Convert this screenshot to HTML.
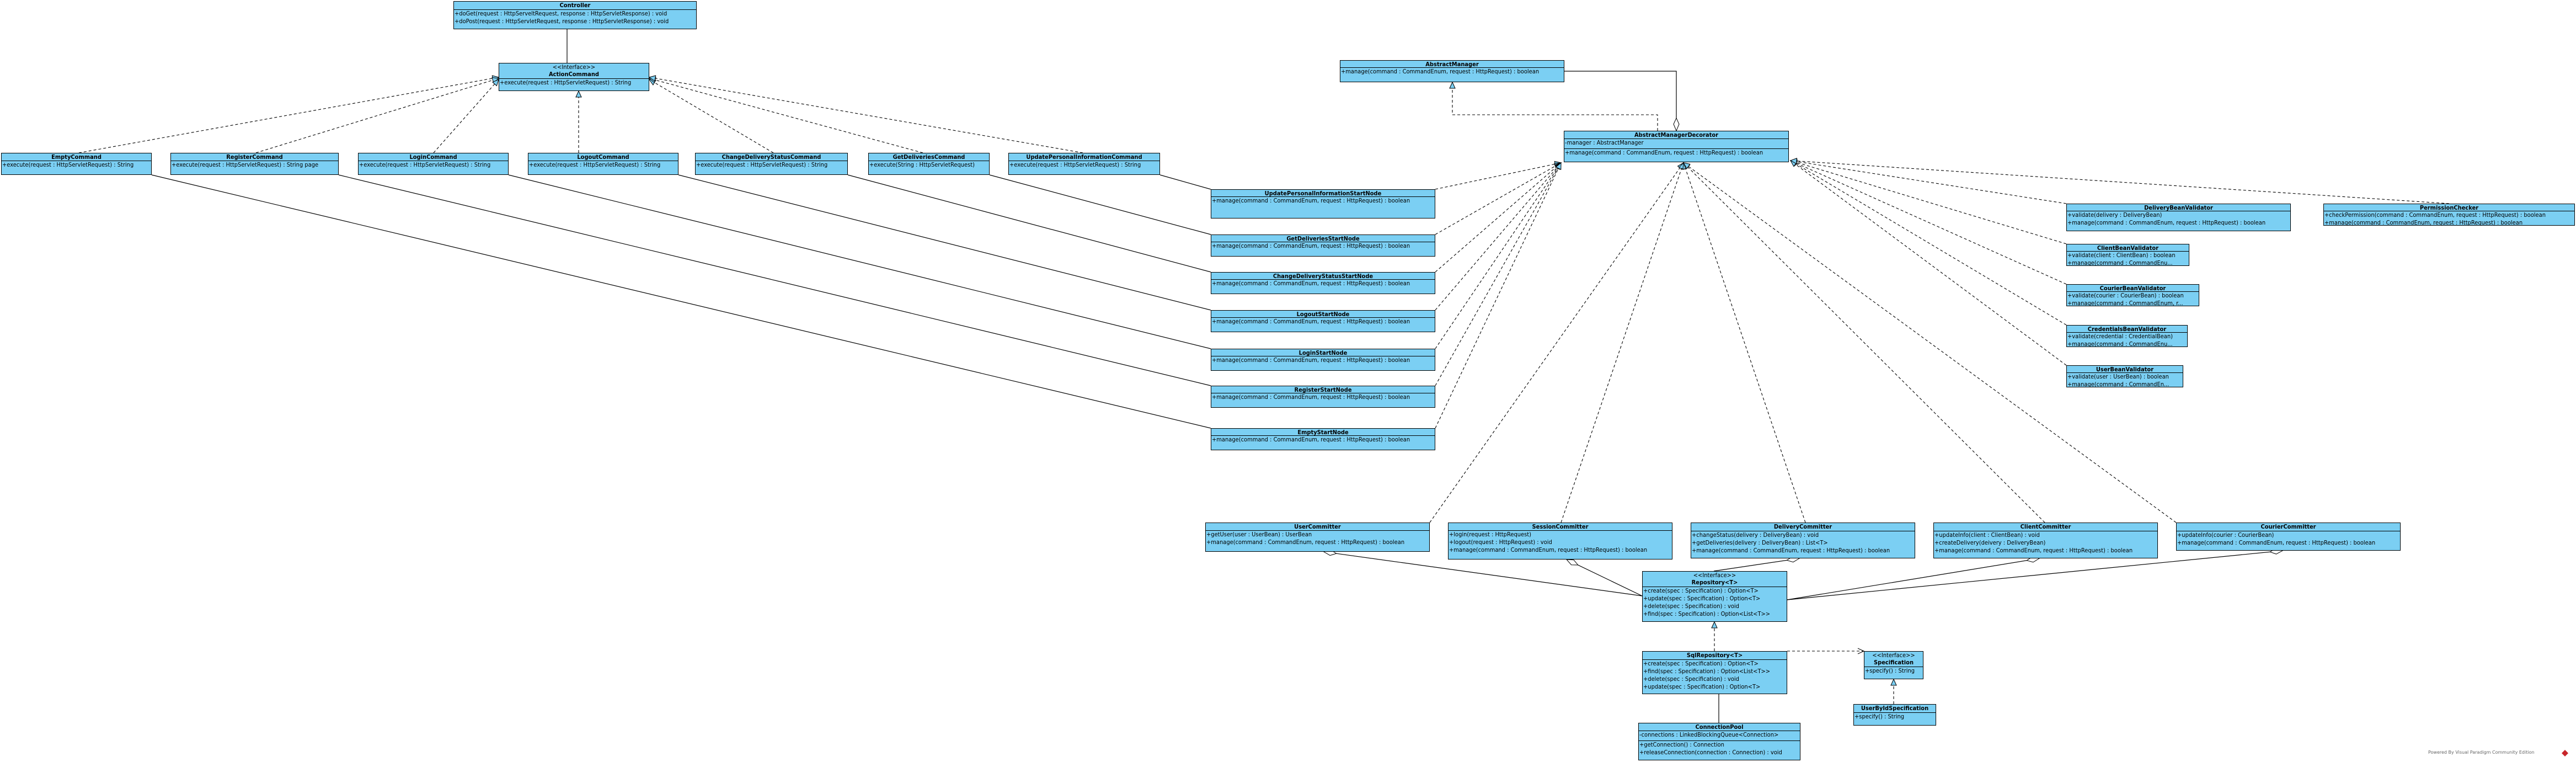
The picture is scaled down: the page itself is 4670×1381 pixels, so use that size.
<!DOCTYPE html>
<html><head><meta charset="utf-8">
<style>
html,body{margin:0;padding:0;background:#fff;}
body{width:4670px;height:1381px;position:relative;overflow:hidden;}
.b{position:absolute;background:#7bcff3;border:1.3px solid #000;box-sizing:border-box;font:11px "DejaVu Sans Condensed","DejaVu Sans","Liberation Sans Narrow",sans-serif;color:#000;overflow:hidden;white-space:nowrap;}
.h{border-bottom:1.3px solid #000;text-align:center;font-weight:bold;box-sizing:border-box;line-height:13px;}
.s{font-weight:normal;}
.a{border-bottom:1.3px solid #000;box-sizing:border-box;padding-left:1px;line-height:14px;}
.r{line-height:14px;padding-left:1px;}
svg{position:absolute;left:0;top:0;}
.wm{position:absolute;left:4402px;top:1359px;font:8px "DejaVu Sans",sans-serif;color:#666;}
</style></head><body>
<svg width="4670" height="1381" xmlns="http://www.w3.org/2000/svg">
<defs>
<marker id="tri" markerUnits="userSpaceOnUse" markerWidth="14" markerHeight="14" refX="12" refY="6" orient="auto"><path d="M1,1 L12,6 L1,11 Z" fill="#7bcff3" stroke="#000" stroke-width="1"/></marker>
<marker id="dia" markerUnits="userSpaceOnUse" markerWidth="26" markerHeight="12" refX="24" refY="6" orient="auto"><path d="M1,6 L12,1 L24,6 L12,11 Z" fill="#fff" stroke="#000" stroke-width="1"/></marker>
<marker id="open" markerUnits="userSpaceOnUse" markerWidth="14" markerHeight="14" refX="12" refY="6" orient="auto"><path d="M1,1 L12,6 L1,11" fill="none" stroke="#000" stroke-width="1"/></marker>
</defs>
<g stroke="#000" stroke-width="1.2" fill="none">
<line x1="1028" y1="53" x2="1028" y2="114"/>
<line x1="275" y1="317" x2="2195" y2="776"/>
<line x1="614" y1="317" x2="2195" y2="699"/>
<line x1="922" y1="317" x2="2195" y2="632"/>
<line x1="1230" y1="317" x2="2195" y2="562"/>
<line x1="1537" y1="317" x2="2195" y2="493"/>
<line x1="1794" y1="317" x2="2195" y2="425"/>
<line x1="2103" y1="317" x2="2195" y2="343"/>
<polyline points="2836,129 3039,129 3039,237" marker-end="url(#dia)"/>
<line x1="3116" y1="1258" x2="3116" y2="1310"/>
<line x1="2977" y1="1080" x2="2400" y2="1000" marker-end="url(#dia)"/>
<line x1="2977" y1="1080" x2="2840" y2="1014" marker-end="url(#dia)"/>
<line x1="3107" y1="1035" x2="3262" y2="1012" marker-end="url(#dia)"/>
<line x1="3240" y1="1087" x2="3697" y2="1012" marker-end="url(#dia)"/>
<line x1="3240" y1="1087" x2="4138" y2="998" marker-end="url(#dia)"/>
</g>
<g stroke="#000" stroke-width="1.1" fill="none" stroke-dasharray="5,4" marker-end="url(#tri)">
<line x1="143" y1="277" x2="904" y2="140"/>
<line x1="464" y1="277" x2="904" y2="142"/>
<line x1="786" y1="277" x2="904" y2="144"/>
<line x1="1049" y1="277" x2="1049" y2="165"/>
<line x1="1402" y1="277" x2="1177" y2="144"/>
<line x1="1673" y1="277" x2="1177" y2="142"/>
<line x1="1963" y1="277" x2="1177" y2="140"/>
<polyline points="3005,237 3005,208 2633,208 2633,149"/>
<line x1="2602" y1="343" x2="2830" y2="295"/>
<line x1="2602" y1="425" x2="2830" y2="295"/>
<line x1="2602" y1="493" x2="2830" y2="295"/>
<line x1="2602" y1="562" x2="2830" y2="295"/>
<line x1="2602" y1="632" x2="2830" y2="295"/>
<line x1="2602" y1="699" x2="2830" y2="295"/>
<line x1="2602" y1="776" x2="2830" y2="295"/>
<line x1="2592" y1="947" x2="3052" y2="295"/>
<line x1="2830" y1="947" x2="3052" y2="295"/>
<line x1="3273" y1="947" x2="3052" y2="295"/>
<line x1="3707" y1="947" x2="3052" y2="295"/>
<line x1="3945" y1="947" x2="3052" y2="295"/>
<line x1="3746" y1="369" x2="3246" y2="291"/>
<line x1="3746" y1="442" x2="3246" y2="291"/>
<line x1="3746" y1="515" x2="3246" y2="291"/>
<line x1="3746" y1="589" x2="3246" y2="291"/>
<line x1="3746" y1="662" x2="3246" y2="291"/>
<line x1="4440" y1="369" x2="3246" y2="291"/>
<line x1="3108" y1="1180" x2="3108" y2="1127"/>
<line x1="3433" y1="1276" x2="3433" y2="1231"/>
</g>
<line x1="3240" y1="1180" x2="3379" y2="1180" stroke="#000" stroke-width="1.1" stroke-dasharray="5,4" marker-end="url(#open)"/>
<path d="M4650,1359 L4656,1365 L4650,1371 L4644,1365 Z" fill="#c8262b"/>
</svg>

<div class="b" style="left:822px;top:2px;width:441px;height:51px"><div class="h" style="height:15px">Controller</div><div class="r">+doGet(request : HttpServeltRequest, response : HttpServletResponse) : void</div><div class="r">+doPost(request : HttpServletRequest, response : HttpServletResponse) : void</div></div>

<div class="b" style="left:904px;top:114px;width:273px;height:51px"><div class="h" style="height:28px"><div class="s">&lt;&lt;Interface&gt;&gt;</div>ActionCommand</div><div class="r">+execute(request : HttpServletRequest) : String</div></div>

<div class="b" style="left:2px;top:277px;width:273px;height:40px"><div class="h" style="height:14px">EmptyCommand</div><div class="r">+execute(request : HttpServletRequest) : String</div></div>
<div class="b" style="left:309px;top:277px;width:305px;height:40px"><div class="h" style="height:14px">RegisterCommand</div><div class="r">+execute(request : HttpServletRequest) : String page</div></div>
<div class="b" style="left:649px;top:277px;width:273px;height:40px"><div class="h" style="height:14px">LoginCommand</div><div class="r">+execute(request : HttpServletRequest) : String</div></div>
<div class="b" style="left:957px;top:277px;width:273px;height:40px"><div class="h" style="height:14px">LogoutCommand</div><div class="r">+execute(request : HttpServletRequest) : String</div></div>
<div class="b" style="left:1260px;top:277px;width:277px;height:40px"><div class="h" style="height:14px">ChangeDeliveryStatusCommand</div><div class="r">+execute(request : HttpServletRequest) : String</div></div>
<div class="b" style="left:1574px;top:277px;width:220px;height:40px"><div class="h" style="height:14px">GetDeliveriesCommand</div><div class="r">+execute(String : HttpServletRequest)</div></div>
<div class="b" style="left:1828px;top:277px;width:275px;height:40px"><div class="h" style="height:14px">UpdatePersonalInformationCommand</div><div class="r">+execute(request : HttpServletRequest) : String</div></div>

<div class="b" style="left:2429px;top:109px;width:407px;height:40px"><div class="h" style="height:13px">AbstractManager</div><div class="r">+manage(command : CommandEnum, request : HttpRequest) : boolean</div></div>

<div class="b" style="left:2835px;top:237px;width:408px;height:57px"><div class="h" style="height:14px">AbstractManagerDecorator</div><div class="a" style="height:18px">-manager : AbstractManager</div><div class="r">+manage(command : CommandEnum, request : HttpRequest) : boolean</div></div>

<div class="b" style="left:2195px;top:343px;width:407px;height:53px"><div class="h" style="height:13px">UpdatePersonalInformationStartNode</div><div class="r">+manage(command : CommandEnum, request : HttpRequest) : boolean</div></div>
<div class="b" style="left:2195px;top:425px;width:407px;height:40px"><div class="h" style="height:13px">GetDeliveriesStartNode</div><div class="r">+manage(command : CommandEnum, request : HttpRequest) : boolean</div></div>
<div class="b" style="left:2195px;top:493px;width:407px;height:40px"><div class="h" style="height:13px">ChangeDeliveryStatusStartNode</div><div class="r">+manage(command : CommandEnum, request : HttpRequest) : boolean</div></div>
<div class="b" style="left:2195px;top:562px;width:407px;height:40px"><div class="h" style="height:13px">LogoutStartNode</div><div class="r">+manage(command : CommandEnum, request : HttpRequest) : boolean</div></div>
<div class="b" style="left:2195px;top:632px;width:407px;height:40px"><div class="h" style="height:13px">LoginStartNode</div><div class="r">+manage(command : CommandEnum, request : HttpRequest) : boolean</div></div>
<div class="b" style="left:2195px;top:699px;width:407px;height:40px"><div class="h" style="height:13px">RegisterStartNode</div><div class="r">+manage(command : CommandEnum, request : HttpRequest) : boolean</div></div>
<div class="b" style="left:2195px;top:776px;width:407px;height:40px"><div class="h" style="height:13px">EmptyStartNode</div><div class="r">+manage(command : CommandEnum, request : HttpRequest) : boolean</div></div>

<div class="b" style="left:3746px;top:369px;width:407px;height:50px"><div class="h" style="height:13px">DeliveryBeanValidator</div><div class="r">+validate(delivery : DeliveryBean)</div><div class="r">+manage(command : CommandEnum, request : HttpRequest) : boolean</div></div>
<div class="b" style="left:4212px;top:369px;width:456px;height:40px"><div class="h" style="height:13px">PermissionChecker</div><div class="r">+checkPermission(command : CommandEnum, request : HttpRequest) : boolean</div><div class="r">+manage(command : CommandEnum, request : HttpRequest) : boolean</div></div>
<div class="b" style="left:3746px;top:442px;width:223px;height:40px"><div class="h" style="height:13px">ClientBeanValidator</div><div class="r">+validate(client : ClientBean) : boolean</div><div class="r">+manage(command : CommandEnu...</div></div>
<div class="b" style="left:3746px;top:515px;width:241px;height:40px"><div class="h" style="height:13px">CourierBeanValidator</div><div class="r">+validate(courier : CourierBean) : boolean</div><div class="r">+manage(command : CommandEnum, r...</div></div>
<div class="b" style="left:3746px;top:589px;width:220px;height:40px"><div class="h" style="height:13px">CredentialsBeanValidator</div><div class="r">+validate(credential : CredentialBean)</div><div class="r">+manage(command : CommandEnu...</div></div>
<div class="b" style="left:3746px;top:662px;width:212px;height:40px"><div class="h" style="height:13px">UserBeanValidator</div><div class="r">+validate(user : UserBean) : boolean</div><div class="r">+manage(command : CommandEn...</div></div>

<div class="b" style="left:2185px;top:947px;width:407px;height:53px"><div class="h" style="height:14px">UserCommitter</div><div class="r">+getUser(user : UserBean) : UserBean</div><div class="r">+manage(command : CommandEnum, request : HttpRequest) : boolean</div></div>
<div class="b" style="left:2625px;top:947px;width:407px;height:67px"><div class="h" style="height:14px">SessionCommitter</div><div class="r">+login(request : HttpRequest)</div><div class="r">+logout(request : HttpRequest) : void</div><div class="r">+manage(command : CommandEnum, request : HttpRequest) : boolean</div></div>
<div class="b" style="left:3065px;top:947px;width:407px;height:65px"><div class="h" style="height:15px">DeliveryCommitter</div><div class="r">+changeStatus(delivery : DeliveryBean) : void</div><div class="r">+getDeliveries(delivery : DeliveryBean) : List&lt;T&gt;</div><div class="r">+manage(command : CommandEnum, request : HttpRequest) : boolean</div></div>
<div class="b" style="left:3505px;top:947px;width:407px;height:65px"><div class="h" style="height:15px">ClientCommitter</div><div class="r">+updateInfo(client : ClientBean) : void</div><div class="r">+createDelivery(deivery : DeliveryBean)</div><div class="r">+manage(command : CommandEnum, request : HttpRequest) : boolean</div></div>
<div class="b" style="left:3945px;top:947px;width:407px;height:51px"><div class="h" style="height:15px">CourierCommitter</div><div class="r">+updateInfo(courier : CourierBean)</div><div class="r">+manage(command : CommandEnum, request : HttpRequest) : boolean</div></div>

<div class="b" style="left:2977px;top:1035px;width:263px;height:92px"><div class="h" style="height:28px"><div class="s">&lt;&lt;Interface&gt;&gt;</div>Repository&lt;T&gt;</div><div class="r">+create(spec : Specification) : Option&lt;T&gt;</div><div class="r">+update(spec : Specification) : Option&lt;T&gt;</div><div class="r">+delete(spec : Specification) : void</div><div class="r">+find(spec : Specification) : Option&lt;List&lt;T&gt;&gt;</div></div>
<div class="b" style="left:2977px;top:1180px;width:263px;height:78px"><div class="h" style="height:15px">SqlRepository&lt;T&gt;</div><div class="r">+create(spec : Specification) : Option&lt;T&gt;</div><div class="r">+find(spec : Specification) : Option&lt;List&lt;T&gt;&gt;</div><div class="r">+delete(spec : Specification) : void</div><div class="r">+update(spec : Specification) : Option&lt;T&gt;</div></div>
<div class="b" style="left:3379px;top:1180px;width:108px;height:51px"><div class="h" style="height:28px"><div class="s">&lt;&lt;Interface&gt;&gt;</div>Specification</div><div class="r">+specify() : String</div></div>
<div class="b" style="left:3360px;top:1276px;width:150px;height:39px"><div class="h" style="height:15px">UserByIdSpecification</div><div class="r">+specify() : String</div></div>
<div class="b" style="left:2970px;top:1310px;width:294px;height:68px"><div class="h" style="height:14px">ConnectionPool</div><div class="a" style="height:18px">-connections : LinkedBlockingQueue&lt;Connection&gt;</div><div class="r">+getConnection() : Connection</div><div class="r">+releaseConnection(connection : Connection) : void</div></div>

<div class="wm">Powered By Visual Paradigm Community Edition</div>
</body></html>
